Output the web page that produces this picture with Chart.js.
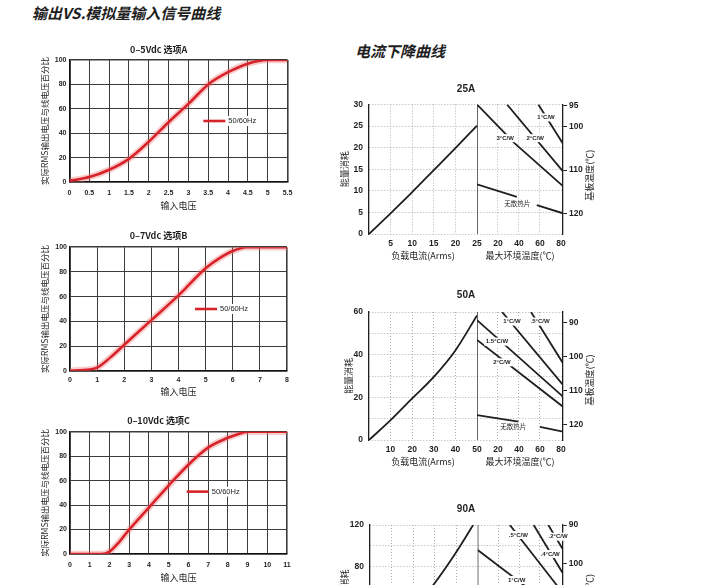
<!DOCTYPE html>
<html lang="zh-CN">
<head>
<meta charset="utf-8">
<title>输出VS.模拟量输入信号曲线 / 电流下降曲线</title>
<script src="https://cdn.jsdelivr.net/npm/chart.js@4.4.1/dist/chart.umd.min.js"></script>
<style>
html,body{margin:0;padding:0;background:#fff;}
body{width:710px;height:585px;overflow:hidden;position:relative;}
canvas{position:absolute;}
.hd{position:absolute;margin:0;font-family:'Noto Sans CJK SC',sans-serif;font-weight:700;font-style:italic;font-size:15px;line-height:15px;color:#1e1e1e;white-space:nowrap;}
</style>
</head>
<body>
<h1 class="hd" style="left:32px;top:5px">输出VS.模拟量输入信号曲线</h1>
<h2 class="hd" style="left:355px;top:43px">电流下降曲线</h2>
<canvas id="cA" width="270" height="178" style="left:30px;top:40px"></canvas>
<canvas id="cB" width="270" height="180" style="left:30px;top:225px"></canvas>
<canvas id="cC" width="270" height="175" style="left:30px;top:410px"></canvas>
<canvas id="d25" width="272" height="187" style="left:330px;top:78px"></canvas>
<canvas id="d50" width="272" height="188" style="left:330px;top:284px"></canvas>
<canvas id="d90" width="272" height="186" style="left:330px;top:496px"></canvas>
<script>
// ================= DATA =================
// Output vs analog input (percent of line voltage)
const pctTicks = [0, 20, 40, 60, 80, 100];

const voltTicksA = [0, 0.5, 1, 1.5, 2, 2.5, 3, 3.5, 4, 4.5, 5, 5.5];
const voltsA = [0, 0.5, 1, 1.5, 2, 2.5, 3, 3.5, 4, 4.5, 5, 5.5];
const outA   = [1, 4, 10, 19, 33, 49, 64, 80, 90, 97, 100, 100];

const voltTicksB = [0, 1, 2, 3, 4, 5, 6, 7, 8];
const voltsB = [0, 0.5, 1, 1.5, 2, 3, 4, 5, 5.5, 6, 6.5, 7, 8];
const outB   = [0, 0.5, 2.5, 11, 21, 41, 61, 83, 91, 97, 100, 100, 100];

const voltTicksC = [0, 1, 2, 3, 4, 5, 6, 7, 8, 9, 10, 11];
const voltsC = [0, 1, 1.6, 2, 2.5, 3, 4, 5, 6, 7, 8, 8.5, 9, 10, 11];
const outC   = [0, 0, 0, 2, 10, 20, 38, 56, 73, 87, 95, 98, 100, 100, 100];

// Current derating curves
const ambTicks = [0, 20, 40, 60, 80];
const ambMax = 82;

// 25A
const amp25Ticks = [0, 5, 10, 15, 20, 25];
const pd25Ticks = [0, 5, 10, 15, 20, 25, 30];
const base25Ticks = [95, 100, 110, 120];
const base25Range = [94.8, 124.8];
const amps25 = [0, 5, 10, 15, 20, 25];
const loss25 = [0, 4.8, 9.7, 14.8, 19.9, 25.1];
const hs25_3cw = [[0, 30], [36, 21], [82, 11.1]];
const hs25_2cw = [[28.6, 30], [82, 14.5]];
const hs25_1cw = [[58.5, 30], [82, 20.9]];
const hs25_none = [[0, 11.5], [38, 8.6], [47, null], [57, 6.7], [82, 4.8]];
const tags25 = [['3°C/W', 26.9, 22.2], ['2°C/W', 55.4, 22.2], ['1°C/W', 65.8, 27], ['无散热片', 38.3, 7.0]];

// 50A
const amp50Ticks = [0, 10, 20, 30, 40, 50];
const pd50Ticks = [0, 10, 20, 30, 40, 50, 60];
const base50Ticks = [90, 100, 110, 120];
const base50Range = [86.9, 124.4];
const amps50 = [0, 10, 20, 30, 40, 50];
const loss50 = [0, 9.3, 19.5, 29.6, 42, 58.4];
const hs50_05cw = [[51.5, 60], [82, 36]];
const hs50_1cw = [[23.9, 60], [82, 25.8]];
const hs50_15cw = [[0, 56.2], [82, 20.3]];
const hs50_2cw = [[0, 46.9], [82, 15.6]];
const hs50_none = [[0, 11.7], [39.5, 8.6], [50, null], [60, 6.2], [82, 3.9]];
const tags50 = [['.5°C/W', 60.1, 55.5], ['1°C/W', 33.3, 55.5], ['1.5°C/W', 19, 46.1], ['2°C/W', 23.8, 36.4], ['无散热片', 34.5, 6.2]];

// 90A
const amp90Ticks = [0, 18, 36, 54, 72, 90];
const pd90Ticks = [0, 20, 40, 60, 80, 100, 120];
const base90Ticks = [90, 100, 110, 120];
const base90Range = [90, 122.6];
const amps90 = [0, 18, 36, 54, 72, 85, 90];
const loss90 = [0, 17.2, 38.6, 64.1, 93.8, 117.8, 127.6];
const hs90_1cw = [[0, 96], [82, 34]];
const hs90_05cw = [[31, 120], [82, 55]];
const hs90_04cw = [[54, 120], [82, 74]];
const hs90_02cw = [[68.1, 120], [82, 97]];
const tags90 = [['1°C/W', 37.6, 67.2], ['.5°C/W', 39.2, 110.4], ['.4°C/W', 69.8, 92.2], ['.2°C/W', 77.5, 108.8]];

// ================= STYLE / HELPERS =================
const CJK = "'Noto Sans CJK SC','Noto Sans CJK JP',sans-serif";
const NUM = "'Liberation Sans Narrow','Liberation Sans',Arial,sans-serif";
const INK = '#1f1f1f';
const RED = '#d8232a';

const toPts = (xs, ys) => xs.map((x, i) => ({x: x, y: ys[i]}));
const pairPts = arr => arr.map(p => ({x: p[0], y: p[1]}));
const useTicks = arr => s => { s.ticks = arr.map(v => ({value: v})); };
const fixW = w => s => { s.width = w; };
const fixH = h => s => { s.height = h; };

const hzLegend = {
  id: 'hzLegend',
  afterDatasetsDraw(chart, args, o) {
    const a = chart.chartArea, ctx = chart.ctx;
    const x = a.left + o.fx * (a.right - a.left);
    const y = a.top + o.fy * (a.bottom - a.top);
    const text = chart.data.datasets[0].label;
    ctx.save();
    ctx.font = '7.5px ' + NUM;
    const tw = ctx.measureText(text).width;
    ctx.fillStyle = '#fff';
    ctx.fillRect(x + 23, y - 5, tw + 4, 10);
    ctx.strokeStyle = RED; ctx.lineWidth = 2.6;
    ctx.beginPath(); ctx.moveTo(x, y); ctx.lineTo(x + 22, y); ctx.stroke();
    ctx.fillStyle = INK; ctx.textBaseline = 'middle'; ctx.textAlign = 'left';
    ctx.fillText(text, x + 25, y);
    ctx.restore();
  }
};

const curveTags = {
  id: 'curveTags',
  afterDatasetsDraw(chart, args, o) {
    if (!o.items) return;
    const ctx = chart.ctx, xs = chart.scales.x2, ys = chart.scales.y;
    ctx.save();
    ctx.textAlign = 'center'; ctx.textBaseline = 'middle';
    for (const [text, xv, yv] of o.items) {
      const cjk = /[\u4e00-\u9fff]/.test(text);
      ctx.font = cjk ? '6.5px ' + CJK : 'bold 6px ' + NUM;
      const px = xs.getPixelForValue(xv), py = ys.getPixelForValue(yv);
      const w = ctx.measureText(text).width;
      ctx.fillStyle = '#fff';
      ctx.fillRect(px - w / 2 - 1.5, py - 4, w + 3, 8);
      ctx.fillStyle = INK;
      ctx.fillText(text, px, py);
    }
    ctx.restore();
  }
};

const sideTitle = {
  id: 'sideTitle',
  afterDraw(chart, args, o) {
    if (!o.text) return;
    const a = chart.chartArea, ctx = chart.ctx;
    ctx.save();
    ctx.translate(a.right + o.dx, (a.top + a.bottom) / 2 + (o.dy || 0));
    ctx.rotate(-Math.PI / 2);
    ctx.font = '9px ' + CJK; ctx.fillStyle = INK;
    ctx.textAlign = 'center'; ctx.textBaseline = 'middle';
    ctx.fillText(o.text, 0, 0);
    ctx.restore();
  }
};

function inputChart(id, xs, ys, xTicks, lay) {
  const pts = toPts(xs, ys);
  const xMax = xTicks[xTicks.length - 1];
  const edge = last => c => (c.tick && (c.tick.value === 0 || c.tick.value === last)) ? 1.6 : 1;
  return new Chart(document.getElementById(id), {
    type: 'line',
    data: {datasets: [
      {label: '50/60Hz', data: pts, borderColor: RED, borderWidth: 2.6, pointRadius: 0, cubicInterpolationMode: 'monotone'},
      {label: 'glow', data: pts, borderColor: 'rgba(238,110,110,0.35)', borderWidth: 6.5, pointRadius: 0, cubicInterpolationMode: 'monotone'}
    ]},
    options: {
      responsive: false, animation: false, events: [],
      layout: {padding: {left: 0, top: 0, bottom: 0, right: lay.padR}},
      plugins: {
        legend: {display: false}, tooltip: {enabled: false},
        title: {display: true, text: lay.title, color: INK, font: {family: CJK, size: 9, weight: 'bold'}, padding: {top: lay.tPt, bottom: lay.tPb}},
        hzLegend: {fx: lay.lx, fy: lay.ly}
      },
      scales: {
        x: {type: 'linear', min: 0, max: xMax, afterBuildTicks: useTicks(xTicks), afterFit: fixH(lay.xh),
          grid: {color: '#3c3c3c', lineWidth: edge(xMax), drawTicks: false},
          border: {display: true, color: '#111', width: 1.6},
          ticks: {autoSkip: false, maxRotation: 0, padding: lay.xlp, color: INK, font: {family: NUM, size: 7, weight: 'bold'}, callback: v => String(v)},
          title: {display: true, text: '输入电压', color: INK, font: {family: CJK, size: 9}, padding: {top: 0, bottom: lay.xtp}}},
        y: {min: 0, max: 100, afterBuildTicks: useTicks(pctTicks), afterFit: fixW(lay.yw),
          grid: {color: '#3c3c3c', lineWidth: edge(100), drawTicks: false},
          border: {display: true, color: '#111', width: 1.6},
          ticks: {padding: 3, color: INK, font: {family: NUM, size: 7, weight: 'bold'}, callback: v => String(v)},
          title: {display: true, text: '实际RMS输出电压与线电压百分比', color: INK, font: {family: CJK, size: 8.5}, padding: {top: lay.ytp, bottom: 0}}}
      }
    },
    plugins: [hzLegend]
  });
}

function derateChart(id, c) {
  const ds = [{label: '负载电流', data: toPts(c.amps, c.loss), xAxisID: 'x', yAxisID: 'y', borderColor: INK, borderWidth: 1.8, pointRadius: 0, cubicInterpolationMode: 'monotone'}];
  c.sinks.forEach(s => ds.push({data: pairPts(s), xAxisID: 'x2', yAxisID: 'y', borderColor: INK, borderWidth: 1.8, pointRadius: 0, spanGaps: false}));
  const pMax = c.pTicks[c.pTicks.length - 1];
  ds.push({data: [{x: 0, y: c.pTicks[0]}, {x: 0, y: pMax}], xAxisID: 'x2', yAxisID: 'y', borderColor: '#000', borderWidth: 1.2, pointRadius: 0});
  const ampMax = c.ampTicks[c.ampTicks.length - 1];
  const ambLast = ambTicks[ambTicks.length - 1];
  const hideEdge = last => ctx => (ctx.tick && (ctx.tick.value === 0 || ctx.tick.value === last)) ? 'rgba(0,0,0,0)' : '#9b9b9b';
  const numFont = {family: NUM, size: 8.5, weight: 'bold'};
  return new Chart(document.getElementById(id), {
    type: 'line',
    data: {datasets: ds},
    options: {
      responsive: false, animation: false, events: [],
      layout: {padding: 0},
      plugins: {
        legend: {display: false}, tooltip: {enabled: false},
        title: {display: true, text: c.title, color: INK, font: {family: NUM, size: 10, weight: 'bold'}, padding: {top: c.tPt, bottom: c.tPb}},
        curveTags: {items: c.tags},
        sideTitle: {text: '基板温度(℃)', dx: 27, dy: c.rtDy}
      },
      scales: {
        x: {type: 'linear', position: 'bottom', stack: 'foot', stackWeight: c.wL, min: 0, max: ampMax,
          afterBuildTicks: useTicks(c.ampTicks), afterFit: fixH(c.xh),
          grid: {color: hideEdge(ampMax), lineWidth: 0.8, drawTicks: false},
          border: {display: false, dash: [1, 2]},
          ticks: {autoSkip: false, maxRotation: 0, padding: 4.6, color: INK, font: numFont, callback: v => v === 0 ? '' : String(v)},
          title: {display: true, text: '负载电流(Arms)', color: INK, font: {family: CJK, size: 9}, padding: {top: 0, bottom: c.xtp}}},
        x2: {type: 'linear', position: 'bottom', stack: 'foot', stackWeight: c.wR, min: 0, max: ambMax,
          afterBuildTicks: useTicks(ambTicks), afterFit: fixH(c.xh),
          grid: {color: hideEdge(ambLast), lineWidth: 0.8, drawTicks: false},
          border: {display: false, dash: [1, 2]},
          ticks: {autoSkip: false, maxRotation: 0, padding: 4.6, color: INK, font: numFont, callback: v => v === 0 ? '' : String(v)},
          title: {display: true, text: '最大环境温度(℃)', color: INK, font: {family: CJK, size: 9}, padding: {top: 0, bottom: c.xtp}}},
        y: {position: 'left', min: 0, max: pMax, afterBuildTicks: useTicks(c.pTicks), afterFit: fixW(c.yw),
          grid: {color: '#9b9b9b', lineWidth: 0.8, drawTicks: false},
          border: {display: true, color: INK, width: 1.3, dash: [1, 2]},
          ticks: {padding: 6, color: INK, font: numFont, callback: v => (v % c.pStep === 0) ? String(v) : ''},
          title: {display: true, text: '能量消耗', color: INK, font: {family: CJK, size: 9}, padding: {top: c.ytp, bottom: 0}}},
        y2: {position: 'right', reverse: true, min: c.bRange[0], max: c.bRange[1], afterBuildTicks: useTicks(c.bTicks), afterFit: fixW(c.y2w),
          grid: {drawOnChartArea: false, drawTicks: true, tickLength: 4, color: INK, lineWidth: 1},
          border: {display: true, color: INK, width: 1.3},
          ticks: {padding: 2, color: INK, font: numFont, callback: v => String(v)}}
      }
    },
    plugins: [curveTags, sideTitle]
  });
}

// ================= CHARTS =================
inputChart('cA', voltsA, outA, voltTicksA, {title: '0–5Vdc 选项A', padR: 12.5, tPt: 4.6, tPb: 4.6, yw: 39.5, ytp: 9.9, xh: 36, xlp: 7, xtp: 6.6, lx: 0.614, ly: 0.5});
inputChart('cB', voltsB, outB, voltTicksB, {title: '0–7Vdc 选项B', padR: 13, tPt: 5.6, tPb: 5.9, yw: 40, ytp: 9.9, xh: 34.3, xlp: 5.1, xtp: 8.1, lx: 0.576, ly: 0.5});
inputChart('cC', voltsC, outC, voltTicksC, {title: '0–10Vdc 选项C', padR: 13, tPt: 5.3, tPb: 5.6, yw: 40, ytp: 9.9, xh: 31, xlp: 6.8, xtp: 1.9, lx: 0.538, ly: 0.49});

derateChart('d25', {title: '25A', tPt: 5, tPb: 9.5, wL: 108, wR: 86, xh: 31, xtp: 3.9, yw: 39, y2w: 39, ytp: 9.6, pStep: 5, rtDy: 6,
  amps: amps25, loss: loss25, sinks: [hs25_3cw, hs25_2cw, hs25_1cw, hs25_none], tags: tags25,
  ampTicks: amp25Ticks, pTicks: pd25Ticks, bTicks: base25Ticks, bRange: base25Range});
derateChart('d50', {title: '50A', tPt: 5.7, tPb: 10.3, wL: 108, wR: 86, xh: 32, xtp: 4.9, yw: 39, y2w: 39, ytp: 13.6, pStep: 20, rtDy: 4,
  amps: amps50, loss: loss50, sinks: [hs50_05cw, hs50_1cw, hs50_15cw, hs50_2cw, hs50_none], tags: tags50,
  ampTicks: amp50Ticks, pTicks: pd50Ticks, bTicks: base50Ticks, bRange: base50Range});
derateChart('d90', {title: '90A', tPt: 7, tPb: 10, wL: 107.7, wR: 85, xh: 32, xtp: 4.9, yw: 40, y2w: 39.3, ytp: 9.6, pStep: 40, rtDy: 12,
  amps: amps90, loss: loss90, sinks: [hs90_1cw, hs90_05cw, hs90_04cw, hs90_02cw], tags: tags90,
  ampTicks: amp90Ticks, pTicks: pd90Ticks, bTicks: base90Ticks, bRange: base90Range});
</script>
</body>
</html>
